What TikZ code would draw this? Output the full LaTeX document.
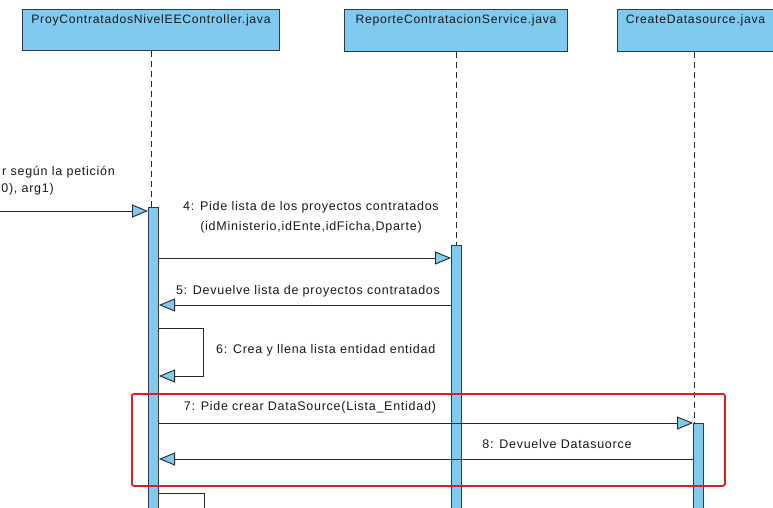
\documentclass[tikz,border=0pt]{standalone}
\usepackage{fontspec}
\setmainfont{Liberation Sans}
\newfontfamily\umlfont[LetterSpace=6]{Liberation Sans}
\usetikzlibrary{arrows.meta}
\definecolor{umlblue}{RGB}{128,202,240}
\definecolor{umledge}{RGB}{45,58,78}
\definecolor{umlline}{RGB}{40,40,40}
\definecolor{umltext}{RGB}{25,25,25}
\definecolor{framered}{RGB}{220,30,35}
\tikzset{
  hdr/.style={draw=umledge, fill=umlblue, line width=1pt, rectangle, inner sep=0pt, anchor=north west},
  hdrtext/.style={anchor=north, inner sep=0pt, text=umltext, font=\umlfont\fontsize{12.2}{14}\selectfont},
  actbar/.style={draw=umledge, fill=umlblue, line width=1pt, rectangle, inner sep=0pt, minimum width=10pt, anchor=north west},
  lifeline/.style={draw=umlline, line width=0.9pt, dash pattern=on 6pt off 4pt},
  msg/.style={draw=umlline, line width=0.9pt, -{Triangle[length=16pt,width=13pt,fill=umlblue]}},
  msglabel/.style={inner sep=0pt, text=umltext, align=center, font=\umlfont\fontsize{12.5}{20}\selectfont},
  redframe/.style={draw=framered, line width=1.8pt, rounded corners=2pt, rectangle, inner sep=0pt, anchor=north west}
}
\begin{document}
\begin{tikzpicture}[x=1pt,y=-1pt]
\useasboundingbox (0,0) rectangle (773,508);
\clip (0,0) rectangle (773,508);
\fill[white] (0,0) rectangle (773,508);

% participants
\node[hdr, minimum width=257pt, minimum height=41pt] (c1) at (22,9) {};
\node[hdrtext] (c1t) at ([yshift=-5pt]c1.north) {ProyContratadosNivelEEController.java};
\node[hdr, minimum width=223pt, minimum height=42pt] (c2) at (344,9) {};
\node[hdrtext] (c2t) at ([yshift=-5pt]c2.north) {ReporteContratacionService.java};
\node[hdr, minimum width=156pt, minimum height=42pt] (c3) at (617,9) {};
\node[hdrtext] (c3t) at ([yshift=-5pt]c3.north) {CreateDatasource.java};

% activation bars (run past the lower edge)
\node[actbar, minimum height=320pt] (b1) at (148,207) {};
\node[actbar, minimum height=290pt] (b2) at (451,245) {};
\node[actbar, minimum height=110pt] (b3) at (693,423) {};

% lifelines
\draw[lifeline] (c1.south) -- (c1.south |- b1.north);
\draw[lifeline] (c2.south) -- (c2.south |- b2.north);
\draw[lifeline] ([xshift=-1pt]c3.south) -- ([xshift=-1pt]c3.south |- b3.north);

% message rows
\coordinate (lft) at (-5,211);
\coordinate (y4) at (0,258);
\coordinate (y5) at (0,305);
\coordinate (y6a) at (0,328);
\coordinate (y6b) at (0,376);
\coordinate (y7) at (0,423);
\coordinate (y8) at (0,459);
\coordinate (y9) at (0,493);
\coordinate (loop6a) at (203,328);
\coordinate (loop6b) at (203,376);
\coordinate (loop9a) at (204,493);
\coordinate (loop9b) at (204,530);

% 3: incoming call, its label runs past the left edge
\node[msglabel, anchor=west] (m3a) at (2,172) {r según la petición};
\node[msglabel, anchor=east] (m3b) at (54,189) {0), arg1)};
\draw[msg] (lft) -- (b1.west |- lft);

% 4
\node[msglabel] (m4) at (311,217) {4: Pide lista de los proyectos contratados\\(idMinisterio,idEnte,idFicha,Dparte)};
\draw[msg] (b1.east |- y4) -- (b2.west |- y4);

% 5
\node[msglabel] (m5) at (308,291) {5: Devuelve lista de proyectos contratados};
\draw[msg] (b2.west |- y5) -- (b1.east |- y5);

% 6: self call
\node[msglabel, anchor=west] (m6) at (216,350) {6: Crea y llena lista entidad entidad};
\draw[msg] (b1.east |- y6a) -- (loop6a) -- (loop6b) -- (b1.east |- y6b);

% 7
\node[msglabel] (m7) at (310,407) {7: Pide crear DataSource(Lista\_Entidad)};
\draw[msg] (b1.east |- y7) -- (b3.west |- y7);

% 8
\node[msglabel] (m8) at (557,444) {8: Devuelve Datasuorce};
\draw[msg] (b3.west |- y8) -- (b1.east |- y8);

% next self call, cut by the lower edge
\draw[draw=umlline, line width=0.9pt] (b1.east |- y9) -- (loop9a) -- (loop9b);

% highlight around messages 7 and 8
\node[redframe, minimum width=593pt, minimum height=92pt] (hl) at (131,393) {};
\end{tikzpicture}
\end{document}
